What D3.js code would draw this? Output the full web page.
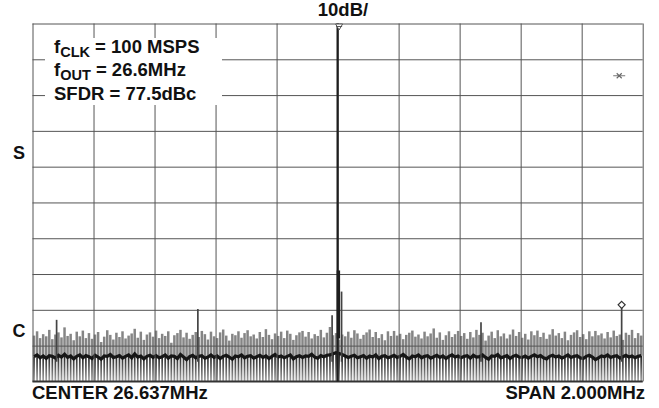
<!DOCTYPE html>
<html>
<head>
<meta charset="utf-8">
<script src="https://cdn.jsdelivr.net/npm/d3@7"></script>
<style>
  html, body { margin: 0; padding: 0; background: #fff; }
  svg { display: block; }
  text { font-family: "Liberation Sans", Arial, sans-serif; font-weight: bold; fill: #111; }
</style>
</head>
<body>
<div id="chart"></div>
<script>
// spectrum analyser settings (MHz / dB)
const centerMHz = 26.637;
const spanMHz = 2.0;
const refLevelDb = 0;
const dbPerDiv = 10;
const divisions = 10;

// max-hold noise trace, one value per display bin (dBc)
const peakHold = [
  -87.2,-86.0,-87.9,-86.8,-87.4,-85.6,-88.2,-86.9,-86.3,-87.7,
  -84.9,-87.3,-86.7,-88.5,-86.1,-87.4,-85.8,-87.9,-86.5,-88.1,
  -86.9,-86.2,-89.0,-87.5,-85.7,-87.0,-88.3,-86.4,-87.6,-86.0,
  -88.0,-87.2,-86.6,-85.3,-87.8,-86.1,-88.4,-86.9,-86.3,-87.5,
  -85.8,-87.9,-86.7,-87.3,-86.0,-89.2,-87.1,-86.5,-85.6,-87.7,
  -86.4,-88.1,-87.0,-86.2,-87.6,-85.9,-86.8,-88.3,-86.1,-87.4,
  -87.9,-86.3,-85.5,-87.2,-88.6,-86.7,-87.1,-86.0,-87.8,-86.5,
  -85.7,-87.4,-86.9,-88.0,-86.2,-87.6,-85.4,-87.0,-88.2,-86.6,
  -87.3,-86.1,-87.9,-85.8,-86.7,-88.4,-87.1,-86.3,-85.9,-87.5,
  -86.2,-88.0,-86.8,-87.3,-85.6,-87.7,-86.4,-84.8,-87.1,-86.5,
  -88.3,-86.9,-87.4,-86.1,-87.8,-85.7,-86.6,-88.1,-87.0,-86.3,
  -85.5,-87.6,-86.2,-87.9,-86.8,-88.5,-86.0,-87.3,-85.9,-87.2,
  -86.7,-88.2,-87.0,-86.4,-85.8,-87.5,-86.9,-88.0,-86.1,-87.4,
  -86.6,-85.2,-87.8,-86.3,-88.4,-87.1,-86.0,-87.6,-86.8,-85.9,
  -87.3,-86.5,-88.1,-86.2,-87.7,-85.6,-87.0,-86.4,-88.6,-87.2,
  -86.1,-87.9,-85.7,-87.4,-86.6,-88.0,-86.9,-85.5,-87.3,-86.2,
  -87.8,-86.7,-88.3,-86.0,-87.1,-85.8,-87.6,-86.4,-88.1,-86.9,
  -85.4,-87.2,-86.5,-87.9,-86.1,-88.5,-87.0,-86.3,-85.7,-87.6,
  -86.8,-88.2,-86.0,-87.4,-85.9,-87.1,-86.6,-88.0,-86.2,-87.7,
  -85.8,-87.3,-86.9,-88.4,-86.4,-87.0,-85.6,-87.9,-86.5,-87.2
];

// averaged noise trace, same bins (dBc)
const avgTrace = [
  -93.1,-92.6,-93.4,-92.9,-93.6,-92.8,-93.0,-93.5,-92.7,-93.2,
  -92.4,-93.3,-92.9,-93.7,-93.0,-92.6,-93.4,-92.8,-93.1,-93.6,
  -92.7,-93.2,-93.8,-92.9,-93.0,-92.5,-93.3,-93.1,-92.8,-93.5,
  -93.0,-92.6,-93.4,-92.3,-93.2,-92.9,-93.7,-93.0,-92.7,-93.3,
  -92.8,-93.4,-93.1,-92.6,-93.5,-92.9,-93.0,-93.6,-92.5,-93.2,
  -93.9,-93.1,-92.7,-93.4,-93.0,-92.8,-93.5,-93.2,-92.6,-93.3,
  -92.9,-93.6,-93.0,-92.7,-93.2,-93.8,-92.9,-93.1,-92.6,-93.4,
  -93.0,-92.8,-93.5,-93.1,-92.7,-93.3,-92.9,-93.6,-93.0,-92.5,
  -93.2,-92.9,-93.4,-93.0,-92.6,-93.7,-93.1,-92.8,-93.3,-92.9,
  -93.0,-92.4,-93.2,-93.5,-92.8,-93.1,-92.7,-92.6,-92.3,-92.0,
  -92.2,-92.5,-92.9,-93.3,-93.0,-92.7,-93.4,-93.1,-92.8,-93.5,
  -92.9,-93.2,-92.6,-93.6,-93.0,-92.8,-93.4,-93.1,-92.7,-93.3,
  -93.0,-92.5,-93.2,-93.7,-92.9,-93.1,-92.6,-93.4,-93.0,-92.8,
  -93.5,-93.1,-92.7,-93.3,-92.9,-93.6,-93.0,-92.6,-93.2,-92.9,
  -93.4,-93.0,-92.8,-93.5,-92.7,-93.2,-93.1,-92.6,-93.3,-93.8,
  -92.9,-93.0,-92.5,-93.4,-93.1,-92.8,-93.6,-93.0,-92.7,-93.2,
  -93.3,-92.9,-93.5,-93.0,-92.6,-93.1,-92.8,-93.4,-93.7,-93.0,
  -92.7,-93.2,-92.9,-93.5,-93.1,-92.6,-93.3,-93.0,-92.8,-93.4,
  -93.6,-93.0,-92.7,-93.2,-93.9,-93.4,-92.9,-93.1,-92.6,-93.3,
  -93.0,-92.8,-93.5,-93.1,-92.7,-93.2,-92.9,-93.4,-93.0,-92.8
];

// carrier and discrete spurs
const carrier = { f: 26.637, db: 0, skirtDb: -69 };
const spurFreqs = [25.716, 26.179, 26.619, 26.650, 27.107, 27.568];
const spurDbs   = [-82.8,  -79.8,  -81.5,  -74.9,  -83.5,  -78.6];

// on-screen markers
const deltaMarker = { f: 27.568, db: -78.6 };
const crossMarker = { f: 27.560, db: -14.6 };

// annotation text
const noteLines = [
  { main: "f", sub: "CLK", rest: " = 100 MSPS" },
  { main: "f", sub: "OUT", rest: " = 26.6MHz" },
  { main: "SFDR = 77.5dBc", sub: "", rest: "" }
];
const topLabel = "10dB/";
const leftLabels = ["S", "C"];
const centerLabel = "CENTER 26.637MHz";
const spanLabel = "SPAN 2.000MHz";

const W = 659, H = 408;
const plot = { left: 32.5, right: 642.7, top: 23.5, bottom: 381.4 };

const svg = d3.select("#chart").append("svg")
  .attr("width", W)
  .attr("height", H);

const fStart = centerMHz - spanMHz / 2;
const fStop = centerMHz + spanMHz / 2;

const x = d3.scaleLinear()
  .domain([fStart, fStop])
  .range([plot.left, plot.right]);

const y = d3.scaleLinear()
  .domain([refLevelDb - dbPerDiv * divisions, refLevelDb])
  .range([plot.bottom, plot.top]);

// display bins across the span
const bin = d3.scaleBand()
  .domain(d3.range(peakHold.length))
  .range([plot.left, plot.right]);
const binX = i => bin(i) + bin.bandwidth() / 2;

const defs = svg.append("defs");
const grad = defs.append("linearGradient")
  .attr("id", "combFade")
  .attr("gradientUnits", "userSpaceOnUse")
  .attr("x1", 0).attr("x2", 0)
  .attr("y1", y(-93)).attr("y2", y(-100));
grad.append("stop").attr("offset", 0).attr("stop-color", "#262626");
grad.append("stop").attr("offset", 0.4).attr("stop-color", "#555");
grad.append("stop").attr("offset", 1).attr("stop-color", "#a4a4a4");

const noise = svg.append("g");

// max-hold bars
noise.selectAll("line.peak")
  .data(peakHold)
  .enter()
  .append("line")
  .attr("class", "peak")
  .attr("x1", (d, i) => binX(i))
  .attr("x2", (d, i) => binX(i))
  .attr("y1", d => y(d))
  .attr("y2", (d, i) => y(avgTrace[i]))
  .attr("stroke", "#858585")
  .attr("stroke-width", 2.5);

// comb below the average
noise.selectAll("line.comb")
  .data(avgTrace)
  .enter()
  .append("line")
  .attr("class", "comb")
  .attr("x1", (d, i) => binX(i))
  .attr("x2", (d, i) => binX(i))
  .attr("y1", d => y(d))
  .attr("y2", y(-100))
  .attr("stroke", "url(#combFade)")
  .attr("stroke-width", 1.7);

// average trace
noise.append("path")
  .datum(avgTrace)
  .attr("fill", "none")
  .attr("stroke", "#161616")
  .attr("stroke-width", 3.2)
  .attr("d", d3.line()
    .x((d, i) => binX(i))
    .y(d => y(d)));

// grid
const xGrid = d3.range(divisions + 1).map(i => fStart + i * spanMHz / divisions);
const yGrid = d3.range(divisions + 1).map(i => refLevelDb - i * dbPerDiv);

svg.append("g")
  .attr("transform", `translate(0,${plot.bottom})`)
  .call(d3.axisBottom(x).tickValues(xGrid).tickSize(-(plot.bottom - plot.top)).tickFormat(""))
  .call(g => g.select(".domain").remove())
  .call(g => g.selectAll(".tick line").attr("stroke", "#555").attr("stroke-width", 1));

svg.append("g")
  .attr("transform", `translate(${plot.left},0)`)
  .call(d3.axisLeft(y).tickValues(yGrid).tickSize(-(plot.right - plot.left)).tickFormat(""))
  .call(g => g.select(".domain").remove())
  .call(g => g.selectAll(".tick line").attr("stroke", "#555").attr("stroke-width", 1));

svg.append("line")
  .attr("x1", plot.left).attr("x2", plot.right)
  .attr("y1", y(-100)).attr("y2", y(-100))
  .attr("stroke", "#333").attr("stroke-width", 1.6);

// spurs
svg.selectAll("line.spur")
  .data(spurFreqs)
  .enter()
  .append("line")
  .attr("class", "spur")
  .attr("x1", d => x(d))
  .attr("x2", d => x(d))
  .attr("y1", (d, i) => y(spurDbs[i]))
  .attr("y2", y(-94.5))
  .attr("stroke", "#444")
  .attr("stroke-width", 1.7);

// carrier
svg.append("line")
  .attr("x1", x(carrier.f)).attr("x2", x(carrier.f))
  .attr("y1", y(carrier.db)).attr("y2", y(-100))
  .attr("stroke", "#1e1e1e").attr("stroke-width", 2.2);
svg.append("line")
  .attr("x1", x(carrier.f) + 0.8).attr("x2", x(carrier.f) + 0.8)
  .attr("y1", y(carrier.skirtDb)).attr("y2", y(-88))
  .attr("stroke", "#1e1e1e").attr("stroke-width", 3.4);

// reference marker at carrier peak
const tx = x(carrier.f) + 1.5, ty = y(carrier.db);
svg.append("path")
  .attr("d", `M${tx - 3.5},${ty + 0.5}L${tx + 3.5},${ty + 0.5}L${tx},${ty + 6.5}Z`)
  .attr("fill", "#fff")
  .attr("stroke", "#555")
  .attr("stroke-width", 1);
svg.append("line")
  .attr("x1", tx - 3).attr("x2", tx + 3)
  .attr("y1", ty + 3).attr("y2", ty + 3)
  .attr("stroke", "#555").attr("stroke-width", 1);

// delta marker diamond on the spur
const dx = x(deltaMarker.f), dy = y(deltaMarker.db);
svg.append("path")
  .attr("d", `M${dx},${dy - 3.5}L${dx + 3.5},${dy}L${dx},${dy + 3.5}L${dx - 3.5},${dy}Z`)
  .attr("fill", "#fff")
  .attr("stroke", "#333")
  .attr("stroke-width", 1.2);

// cross marker
const cx = x(crossMarker.f), cy = y(crossMarker.db);
svg.append("line")
  .attr("x1", cx - 6).attr("x2", cx + 6)
  .attr("y1", cy).attr("y2", cy)
  .attr("stroke", "#777").attr("stroke-width", 1);
svg.append("path")
  .attr("d", `M${cx - 2.5},${cy - 2.5}L${cx + 2.5},${cy + 2.5}M${cx - 2.5},${cy + 2.5}L${cx + 2.5},${cy - 2.5}`)
  .attr("stroke", "#666").attr("stroke-width", 1.1);

// annotation box
svg.append("rect")
  .attr("x", 45).attr("y", 38)
  .attr("width", 177).attr("height", 67)
  .attr("fill", "#fff");

const note = svg.append("g");
noteLines.forEach((ln, i) => {
  const t = note.append("text")
    .attr("x", 54)
    .attr("y", [52.7, 75.7, 99.5][i])
    .style("font-size", "18.5px");
  t.append("tspan").text(ln.main);
  if (ln.sub) {
    t.append("tspan").attr("dy", 4).style("font-size", "14.5px").text(ln.sub);
    t.append("tspan").attr("dy", -4).text(ln.rest);
  }
});

// labels
svg.append("text")
  .attr("x", 343).attr("y", 16)
  .attr("text-anchor", "middle")
  .style("font-size", "18.5px")
  .text(topLabel);

svg.selectAll("text.side")
  .data(leftLabels)
  .enter()
  .append("text")
  .attr("class", "side")
  .attr("x", 19)
  .attr("y", (d, i) => [159, 336.7][i])
  .attr("text-anchor", "middle")
  .style("font-size", "18px")
  .text(d => d);

svg.append("text")
  .attr("x", 32).attr("y", 398.5)
  .style("font-size", "18.5px")
  .text(centerLabel);

svg.append("text")
  .attr("x", 645).attr("y", 398.5)
  .attr("text-anchor", "end")
  .style("font-size", "18.5px")
  .text(spanLabel);
</script>
</body>
</html>
